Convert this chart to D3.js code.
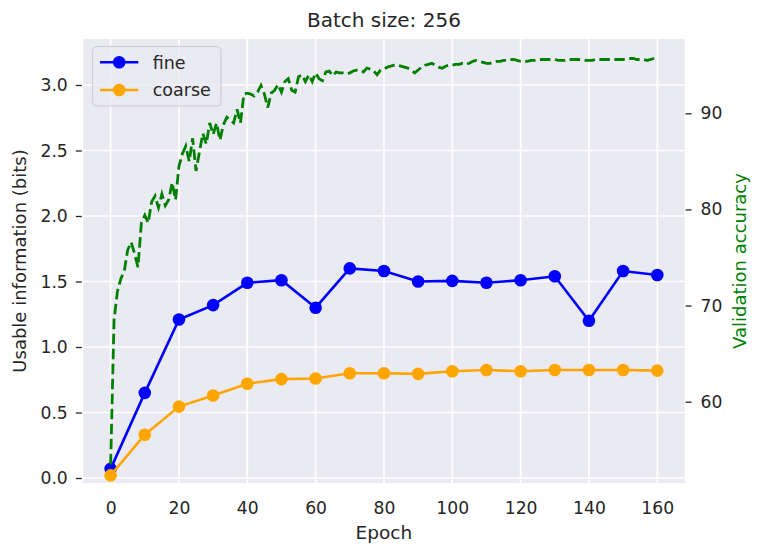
<!DOCTYPE html>
<html>
<head>
<meta charset="utf-8">
<script src="https://cdn.jsdelivr.net/npm/d3@7"></script>
<style>
  body { margin: 0; background: #fff; }
  text { font-family: "DejaVu Sans", sans-serif; fill: #262626; }
</style>
</head>
<body>
<div id="chart"></div>
<script>
// info curves, one point every 10 epochs
var epochs = [0, 10, 20, 30, 40, 50, 60, 70, 80, 90, 100, 110, 120, 130, 140, 150, 160];
var fineBits = [0.07, 0.65, 1.21, 1.32, 1.49, 1.51, 1.30, 1.60, 1.58, 1.50, 1.505, 1.49, 1.51, 1.54, 1.20, 1.58, 1.55];
var coarseBits = [0.02, 0.33, 0.545, 0.63, 0.72, 0.755, 0.76, 0.80, 0.80, 0.795, 0.815, 0.825, 0.815, 0.825, 0.825, 0.825, 0.82];

// validation accuracy, one value per epoch (0..160)
var valAcc = [
  53.5, 68.5, 71.5, 72.8, 73.6, 75.8, 76.6, 75.4, 74.0, 78.6,
  79.4, 78.6, 80.8, 81.4, 80.2, 81.6, 80.4, 81.0, 82.8, 81.0,
  84.5, 85.8, 86.6, 85.0, 87.4, 84.0, 86.0, 87.9, 86.8, 89.0,
  87.8, 89.0, 87.2, 88.8, 89.6, 89.3, 89.0, 90.4, 89.0, 92.0,
  92.1, 92.0, 91.8, 92.2, 92.9, 92.0, 90.6, 92.1, 92.4, 93.0,
  92.2, 93.3, 93.6, 92.4, 92.2, 93.8, 94.0, 93.3, 94.0, 93.3,
  94.2, 93.6, 93.4, 94.3, 94.4, 93.9, 94.3, 94.2, 94.2, 94.1,
  94.2, 94.4, 94.5, 94.5, 94.3, 94.7, 94.6, 94.4, 94.0, 94.5,
  94.6, 94.8, 94.9, 95.0, 95.0, 94.9, 94.8, 94.7, 94.5, 94.2,
  94.5, 94.8, 95.0, 95.1, 95.2, 95.0, 94.8, 94.7, 94.9, 95.0,
  95.0, 95.1, 95.1, 95.2, 95.1, 95.2, 95.4, 95.5, 95.4, 95.3,
  95.2, 95.2, 95.3, 95.4, 95.4, 95.5, 95.5, 95.6, 95.6, 95.5,
  95.4, 95.4, 95.4, 95.5, 95.5, 95.6, 95.6, 95.6, 95.6, 95.6,
  95.6, 95.5, 95.5, 95.5, 95.6, 95.6, 95.6, 95.6, 95.6, 95.5,
  95.5, 95.5, 95.6, 95.6, 95.6, 95.6, 95.6, 95.6, 95.6, 95.6,
  95.6, 95.7, 95.7, 95.7, 95.6, 95.6, 95.6, 95.5, 95.6, 95.7,
  95.8
];

var xTicks = [0, 20, 40, 60, 80, 100, 120, 140, 160];
var leftTicks = [0, 0.5, 1.0, 1.5, 2.0, 2.5, 3.0];
var rightTicks = [60, 70, 80, 90];

var WIDTH = 762, HEIGHT = 557;
var LEFT = 83.3, RIGHT = 684.6, TOP = 39, BOTTOM = 483;

var FINE_COLOR = "#0000ff",
  COARSE_COLOR = "#ffa500",
  ACC_COLOR = "#008000",
  BG_COLOR = "#eaeaf2";

var x = d3.scaleLinear().domain([-8, 168]).range([LEFT, RIGHT]);
var yLeft = d3.scaleLinear().domain([-0.038, 3.351]).range([BOTTOM, TOP]);
var yRight = d3.scaleLinear().domain([51.54, 97.73]).range([BOTTOM, TOP]);

var svg = d3.select('#chart')
    .append("svg")
    .attr("width", WIDTH)
    .attr("height", HEIGHT);

svg.append("rect")
    .attr("x", LEFT)
    .attr("y", TOP)
    .attr("width", RIGHT - LEFT)
    .attr("height", BOTTOM - TOP)
    .style("fill", BG_COLOR);

// grid
svg.append("g").selectAll("line")
    .data(xTicks)
    .enter()
    .append("line")
    .attr("x1", function(d) { return x(d); })
    .attr("x2", function(d) { return x(d); })
    .attr("y1", TOP)
    .attr("y2", BOTTOM)
    .style("stroke", "#fff")
    .style("stroke-width", 1.7);

svg.append("g").selectAll("line")
    .data(leftTicks)
    .enter()
    .append("line")
    .attr("x1", LEFT)
    .attr("x2", RIGHT)
    .attr("y1", function(d) { return yLeft(d); })
    .attr("y2", function(d) { return yLeft(d); })
    .style("stroke", "#fff")
    .style("stroke-width", 1.7);

// axes
var xAxis = svg.append("g")
    .attr("transform", "translate(0," + BOTTOM + ")")
    .call(d3.axisBottom(x).tickValues(xTicks).tickSize(0).tickPadding(19));

var leftAxis = svg.append("g")
    .attr("transform", "translate(" + (LEFT - 1.5) + ",0)")
    .call(d3.axisLeft(yLeft).tickValues(leftTicks).tickSize(6).tickPadding(8)
        .tickFormat(d3.format(".1f")));

var rightAxis = svg.append("g")
    .attr("transform", "translate(" + (RIGHT + 1) + ",0)")
    .call(d3.axisRight(yRight).tickValues(rightTicks).tickSize(6).tickPadding(9));

[xAxis, leftAxis, rightAxis].forEach(function(a) {
    a.select(".domain").remove();
    a.selectAll("line").style("stroke", "#262626").style("stroke-width", 1.3);
    a.selectAll("text")
        .style("font-family", '"DejaVu Sans", sans-serif')
        .style("font-size", "17.2px")
        .style("fill", "#262626");
});

// validation accuracy (twin axis)
var accLine = d3.line()
    .x(function(d, i) { return x(i); })
    .y(function(d) { return yRight(d); });

// info lines
var infoLine = d3.line()
    .x(function(d, i) { return x(epochs[i]); })
    .y(function(d) { return yLeft(d); });

function drawSeries(values, color) {
    svg.append("path")
        .datum(values)
        .attr("d", infoLine)
        .style("fill", "none")
        .style("stroke", color)
        .style("stroke-width", 2.6);
    svg.append("g").selectAll("circle")
        .data(values)
        .enter()
        .append("circle")
        .attr("cx", function(d, i) { return x(epochs[i]); })
        .attr("cy", function(d) { return yLeft(d); })
        .attr("r", 6.3)
        .style("fill", color);
}

drawSeries(fineBits, FINE_COLOR);
drawSeries(coarseBits, COARSE_COLOR);

svg.append("path")
    .datum(valAcc)
    .attr("d", accLine)
    .style("fill", "none")
    .style("stroke", ACC_COLOR)
    .style("stroke-width", 2.8)
    .style("stroke-dasharray", "10.5,4.5");

// labels
svg.append("text")
    .attr("x", (LEFT + RIGHT) / 2)
    .attr("y", 27.3)
    .attr("text-anchor", "middle")
    .style("font-size", "20px")
    .text("Batch size: 256");

svg.append("text")
    .attr("x", (LEFT + RIGHT) / 2)
    .attr("y", 539)
    .attr("text-anchor", "middle")
    .style("font-size", "18.5px")
    .text("Epoch");

svg.append("text")
    .attr("transform", "translate(26," + (TOP + BOTTOM) / 2 + ") rotate(-90)")
    .attr("text-anchor", "middle")
    .style("font-size", "18px")
    .text("Usable information (bits)");

svg.append("text")
    .attr("transform", "translate(746," + (TOP + BOTTOM) / 2 + ") rotate(-90)")
    .attr("text-anchor", "middle")
    .style("font-size", "18px")
    .style("fill", ACC_COLOR)
    .text("Validation accuracy");

// legend
var legendItems = [
    { name: "fine", color: FINE_COLOR },
    { name: "coarse", color: COARSE_COLOR }
];

var legend = svg.append("g");

legend.append("rect")
    .attr("x", 92.7)
    .attr("y", 46.5)
    .attr("width", 128.3)
    .attr("height", 59.5)
    .attr("rx", 4)
    .style("fill", BG_COLOR)
    .style("fill-opacity", 0.8)
    .style("stroke", "#cccccc")
    .style("stroke-width", 1);

var row = legend.selectAll(".item")
    .data(legendItems)
    .enter()
    .append("g")
    .attr("class", "item")
    .attr("transform", function(d, i) { return "translate(0," + (62.3 + i * 27.7) + ")"; });

row.append("line")
    .attr("x1", 100)
    .attr("x2", 138.3)
    .style("stroke", function(d) { return d.color; })
    .style("stroke-width", 2.6);

row.append("circle")
    .attr("cx", 119.2)
    .attr("r", 6.3)
    .style("fill", function(d) { return d.color; });

row.append("text")
    .attr("x", 152.7)
    .attr("y", 6.2)
    .style("font-size", "17.5px")
    .text(function(d) { return d.name; });
</script>
</body>
</html>
